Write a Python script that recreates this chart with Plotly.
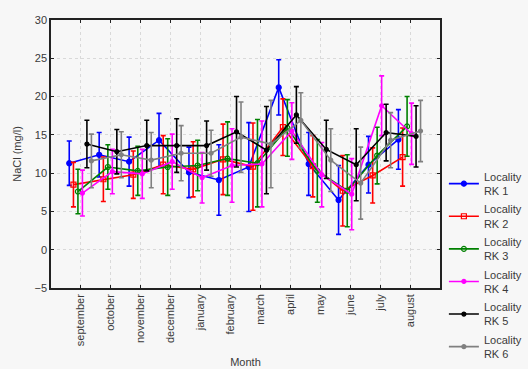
import plotly.graph_objects as go

months = ["september", "october", "november", "december", "january", "february",
          "march", "april", "may", "june", "july", "august"]

series_names = ["Locality<br>RK 1", "Locality<br>RK 2", "Locality<br>RK 3",
                "Locality<br>RK 4", "Locality<br>RK 5", "Locality<br>RK 6"]

rk1_mean = [11.3, 12.4, 11.5, 14.3, 10.1, 9.1, 10.8, 21.2, 11.2, 6.5, 11.1, 14.4]
rk1_err = [2.9, 2.9, 3.2, 3.5, 3.3, 4.6, 5.8, 3.6, 4.1, 4.5, 3.7, 3.9]

rk2_mean = [8.5, 9.2, 9.8, 11.1, 10.5, 11.8, 10.85, 16.0, 10.9, 7.7, 9.7, 12.1]
rk2_err = [2.9, 2.9, 3.1, 3.8, 3.6, 4.6, 5.7, 3.7, 4.0, 4.6, 3.6, 3.8]

rk3_mean = [7.6, 10.8, 10.3, 10.8, 11.0, 11.9, 11.3, 15.9, 10.3, 7.7, 12.3, 16.1]
rk3_err = [2.9, 2.9, 3.2, 3.7, 3.3, 4.8, 5.7, 3.7, 4.1, 4.7, 3.7, 3.9]

rk4_mean = [7.4, 10.2, 9.9, 11.5, 9.4, 11.0, 11.2, 15.5, 9.8, 7.25, 18.8, 15.15]
rk4_err = [3.0, 2.9, 3.2, 3.6, 3.3, 4.8, 5.6, 3.7, 4.2, 4.65, 3.9, 4.0]

rk5_mean = [13.8, 12.8, 13.6, 13.6, 13.6, 15.4, 13.0, 17.6, 13.1, 11.1, 15.3, 14.8]
rk5_err = [3.1, 2.9, 3.3, 3.5, 3.2, 4.6, 5.7, 3.7, 3.8, 4.7, 3.7, 4.0]

rk6_mean = [11.6, 12.4, 11.7, 12.6, 12.6, 14.7, 13.8, 16.9, 11.7, 8.7, 14.3, 15.5]
rk6_err = [3.5, 3.0, 3.6, 3.6, 3.0, 4.6, 5.7, 3.6, 4.1, 4.7, 3.6, 4.0]

y_ticks = [-5, 0, 5, 10, 15, 20, 25, 30]

means = [rk1_mean, rk2_mean, rk3_mean, rk4_mean, rk5_mean, rk6_mean]
errs = [rk1_err, rk2_err, rk3_err, rk4_err, rk5_err, rk6_err]
colors = ["#0000ff", "#ff0000", "#008000", "#ff00ff", "#000000", "#808080"]
symbols = ["circle", "square-open", "circle-open", "circle", "circle", "circle"]
sizes = [5, 5, 5, 4, 4, 4]
# horizontal dodge of each locality within a month
offsets = [-0.39, -0.25, -0.1, 0.05, 0.2, 0.35]

FONT = "Liberation Sans, Arial, sans-serif"
TXT = "#3a3a3a"

fig = go.Figure()
for k, (name, m, e, c, s, sz, off) in enumerate(
        zip(series_names, means, errs, colors, symbols, sizes, offsets)):
    fig.add_trace(go.Scatter(
        x=[i + off for i in range(len(months))],
        y=m,
        name=name,
        legendgroup=f"g{k}",
        mode="lines+markers",
        line=dict(color=c, width=1.6),
        marker=dict(color=c, symbol=s, size=sz, line=dict(color=c, width=1.2)),
        error_y=dict(type="data", array=e, visible=True, color=c,
                     thickness=1.6, width=2.5),
    ))

axis_common = dict(
    showline=True, linecolor="#222222", linewidth=1.5, mirror="ticks",
    ticks="inside", ticklen=3, tickcolor="#222222",
    showgrid=True, gridcolor="#d9d9d9", griddash="dot", gridwidth=1,
    zeroline=False,
    tickfont=dict(family=FONT, size=11, color=TXT),
)

fig.update_layout(
    width=528, height=369,
    margin=dict(l=51, r=88, t=20, b=81, autoexpand=False),
    paper_bgcolor="#f7f7f7",
    plot_bgcolor="#f7f7f7",
    font=dict(family=FONT, size=11, color=TXT),
    xaxis=dict(
        axis_common,
        range=[-1, 12],
        tickmode="array",
        tickvals=list(range(len(months))),
        ticktext=months,
        tickangle=-90,
        title=dict(text="Month", font=dict(size=11, color=TXT), standoff=13),
    ),
    yaxis=dict(
        axis_common,
        range=[-5, 30],
        tickmode="array",
        tickvals=y_ticks,
        title=dict(text="NaCl (mg/l)", font=dict(size=11, color=TXT), standoff=11),
    ),
    legend=dict(
        x=1.01, y=0.467, xanchor="left", yanchor="top",
        bgcolor="rgba(0,0,0,0)",
        font=dict(family=FONT, size=11, color=TXT),
        itemwidth=30,
        tracegroupgap=1,
    ),
    showlegend=True,
)

fig.write_html("out.html")
